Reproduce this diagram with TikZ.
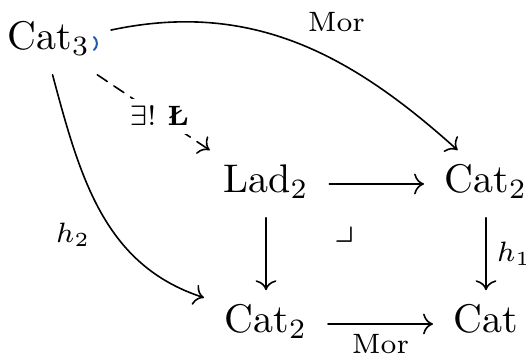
\documentclass[tikz,border=0pt]{standalone}
\usepackage{amssymb}
\usepackage{fontspec}
\usetikzlibrary{arrows.meta}
\definecolor{markblue}{RGB}{30,90,170}

\begin{document}
\begin{tikzpicture}[x=0.25pt,y=0.25pt,line cap=round,line join=round,
  obj/.style={anchor=base,inner xsep=5pt,inner ysep=3pt,text height=7.5pt,text depth=3pt},
  lbl/.style={font=\scriptsize,inner sep=2.5pt},
  arr/.style={-{Computer Modern Rightarrow},line width=0.4pt}]
\useasboundingbox (0,0) rectangle (526,360);
% objects
\node[obj] (cat3) at (49,310) {$\mathrm{Cat}_3$};
\node[obj] (lad) at (266,167) {$\mathrm{Lad}_2$};
\node[obj] (catr) at (486,167) {$\mathrm{Cat}_2$};
\node[obj] (catb) at (266,27) {$\mathrm{Cat}_2$};
\node[obj] (cat) at (486,27) {$\mathrm{Cat}$};
% square
\draw[arr] (lad) -- (catr);
\draw[arr] (lad) -- (catb);
\draw[arr] (catr) -- node[lbl,auto] {$h_1$} (cat);
\draw[arr] (catb) -- node[lbl,auto,swap] {$\mathrm{Mor}$} (cat);
\path (lad) -- node[pos=0.22] (pb) {$\lrcorner$} (cat);
% outer maps
\draw[arr] (cat3.10) to[out=12,in=138] node[lbl,auto] {$\mathrm{Mor}$} (catr.130);
\draw[arr] (cat3.-84) to[out=-75,in=162] node[lbl,auto,swap] {$h_2$} (catb.157);
\draw[arr,dash pattern=on 3pt off 2pt] (cat3.-35) -- node[lbl,pos=0.55,fill=white,inner sep=2pt] {$\exists!$ \textbf{Ł}} (lad.149);
\draw[markblue,line width=0.5pt] (94,323) to[bend left=50] (94,310);
\end{tikzpicture}
\end{document}
